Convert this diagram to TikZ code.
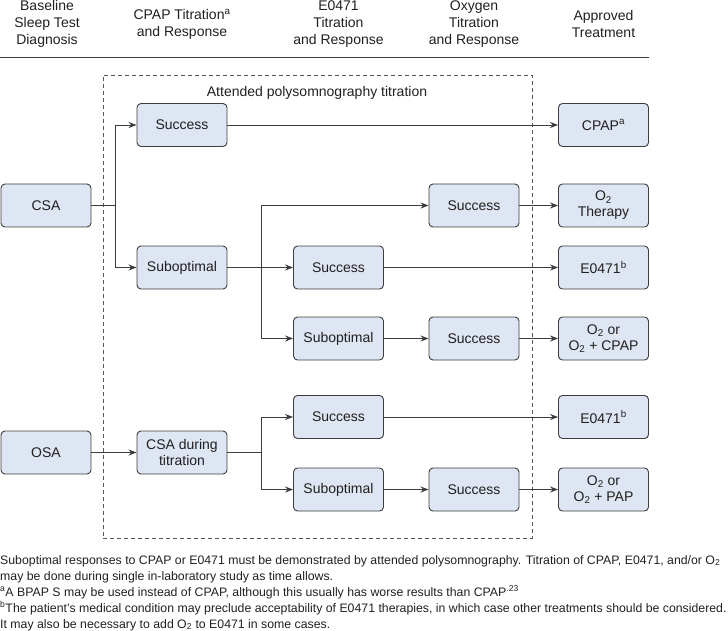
\documentclass[tikz,border=0pt]{standalone}
\usepackage{fontspec}
\setmainfont{Liberation Sans}
\usetikzlibrary{arrows.meta}
\definecolor{boxfill}{HTML}{DDE6F2}
\definecolor{boxline}{HTML}{3C3C3C}
\definecolor{txt}{HTML}{231F20}
\definecolor{dashgray}{HTML}{555555}
\begin{document}
\begin{tikzpicture}[x=1pt,y=-1pt,
  every node/.style={text=txt},
  box/.style={draw=boxline, fill=boxfill, rounded corners=4pt, minimum width=90pt,
    minimum height=43pt, align=center, font=\fontsize{14}{16}\selectfont, inner sep=0pt, line width=0.9pt},
  arr/.style={-{Stealth[length=8pt,width=6pt]}, line width=0.9pt, draw=boxline},
  conn/.style={line width=0.9pt, draw=boxline},
  head/.style={align=center, font=\fontsize{14}{17}\selectfont, inner sep=0pt},
  frame/.style={draw=dashgray, dash pattern=on 4pt off 3pt, line width=0.9pt, inner sep=0pt,
    minimum width=429pt, minimum height=463pt}]
\useasboundingbox (0,0) rectangle (728,631);

% headers
\node[head] (h1) at (47,24) {Baseline\\Sleep Test\\Diagnosis};
\node[head] (h2) at (182,24) {CPAP Titration\textsuperscript{a}\\and Response};
\node[head] (h3) at (338.5,24) {E0471\\Titration\\and Response};
\node[head] (h4) at (474,24) {Oxygen\\Titration\\and Response};
\node[head] (h5) at (603.5,24) {Approved\\Treatment};
\draw[conn] (0,57) -- (649,57);

% dashed frame
\node[frame] (fr) at (317.5,306.5) {};
\node[font=\fontsize{14}{16}\selectfont, inner sep=0pt] (lbl) at (317,93) {Attended polysomnography titration};

% boxes
\node[box] (csa) at (46,205.5) {CSA};
\node[box] (osa) at (46,452.5) {OSA};
\node[box] (s1) at (182,125) {Success};
\node[box] (sub1) at (182,267.5) {Suboptimal};
\node[box] (csadt) at (182,452.5) {CSA during\\titration};
\node[box] (es) at (338.5,267.5) {Success};
\node[box] (esub) at (338.5,338.5) {Suboptimal};
\node[box] (os1) at (474,205.5) {Success};
\node[box] (os2) at (474,338.5) {Success};
\node[box] (s4) at (338.5,417) {Success};
\node[box] (sub5) at (338.5,489.5) {Suboptimal};
\node[box] (os5) at (474,489.5) {Success};

\node[box] (t1) at (603.5,125) {CPAP\textsuperscript{a}};
\node[box] (t2) at (603.5,205.5) {O\textsubscript{2}\\Therapy};
\node[box] (t3) at (603.5,267.5) {E0471\textsuperscript{b}};
\node[box] (t4) at (603.5,338.5) {O\textsubscript{2} or\\O\textsubscript{2} + CPAP};
\node[box] (t5) at (603.5,417) {E0471\textsuperscript{b}};
\node[box] (t6) at (603.5,489.5) {O\textsubscript{2} or\\O\textsubscript{2} + PAP};

% junctions
\coordinate (j1) at (115,205.5);
\coordinate (j2) at (261,267.5);
\coordinate (j3) at (261,452.5);

% connectors
\draw[conn] (csa.east) -- (j1);
\draw[arr] (j1) |- (s1.west);
\draw[arr] (j1) |- (sub1.west);
\draw[arr] (s1.east) -- (t1.west);
\draw[arr] (sub1.east) -- (es.west);
\draw[arr] (j2) |- (os1.west);
\draw[arr] (j2) |- (esub.west);
\draw[arr] (os1.east) -- (t2.west);
\draw[arr] (es.east) -- (t3.west);
\draw[arr] (esub.east) -- (os2.west);
\draw[arr] (os2.east) -- (t4.west);
\draw[arr] (osa.east) -- (csadt.west);
\draw[conn] (csadt.east) -- (j3);
\draw[arr] (j3) |- (s4.west);
\draw[arr] (j3) |- (sub5.west);
\draw[arr] (s4.east) -- (t5.west);
\draw[arr] (sub5.east) -- (os5.west);
\draw[arr] (os5.east) -- (t6.west);

% footnotes
\node[anchor=north west, align=left, inner sep=0pt, font=\fontsize{12.3}{16}\selectfont] (fn) at (0,555)
{Suboptimal responses to CPAP or E0471 must be demonstrated by attended polysomnography. Titration of CPAP, E0471, and/or O\textsubscript{2}\\
may be done during single in-laboratory study as time allows.\\
\textsuperscript{a}A BPAP S may be used instead of CPAP, although this usually has worse results than CPAP\textsuperscript{.23}\\
\textsuperscript{b}The patient’s medical condition may preclude acceptability of E0471 therapies, in which case other treatments should be considered.\\
It may also be necessary to add O\textsubscript{2} to E0471 in some cases.};
\end{tikzpicture}
\end{document}
